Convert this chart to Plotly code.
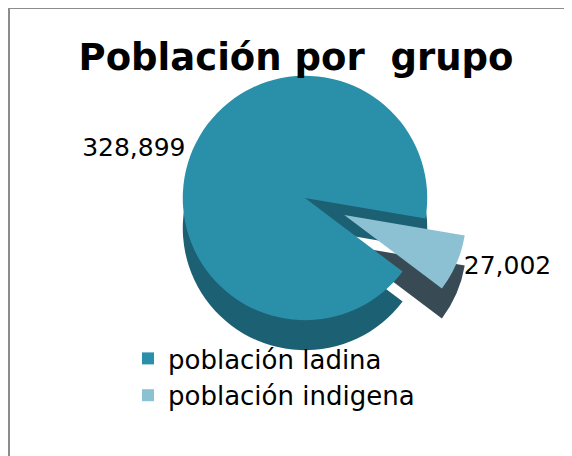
import plotly.graph_objects as go

labels = ["población ladina", "población indigena"]
values = [328899, 27002]
colors_top = ["#2A90A9", "#8CC1D4"]
colors_side = ["#1C6073", "#384A54"]

W, H = 572, 456
OFF = 8  # page body margin offset seen in the screenshot


def fx(sx):
    return (sx - OFF) / W


def fy(sy):
    return 1 - (sy - OFF) / H


def dom(cx, cy, r):
    return dict(x=[fx(cx - r), fx(cx + r)], y=[fy(cy + r), fy(cy - r)])


ROT = 127
PULL = [0, 0.35]

fig = go.Figure()
# side (extrusion) layer
fig.add_trace(go.Pie(
    labels=labels, values=values, sort=False, direction="clockwise", rotation=ROT,
    pull=PULL, marker=dict(colors=colors_side, line=dict(color="#FFFFFF", width=0)),
    textinfo="none", hoverinfo="skip", showlegend=False, automargin=False,
    domain=dom(305, 228, 165),
))
# top layer
fig.add_trace(go.Pie(
    labels=labels, values=values, sort=False, direction="clockwise", rotation=ROT,
    pull=PULL, marker=dict(colors=colors_top, line=dict(color="#FFFFFF", width=0)),
    textinfo="value", textposition="outside", texttemplate="%{value:,}",
    textfont=dict(family="DejaVu Sans", size=25, color="#000000"), automargin=False,
    domain=dom(305, 198, 165),
))

fig.update_layout(
    width=W, height=H,
    margin=dict(l=0, r=0, t=0, b=0, autoexpand=False),
    paper_bgcolor="#FFFFFF",
    title=dict(text="<b>Población por \u00a0grupo</b>", x=fx(296), xanchor="center",
               y=fy(57), yanchor="middle",
               font=dict(family="DejaVu Sans", size=37, color="#000000")),
    legend=dict(x=fx(128), y=fy(335), xanchor="left", yanchor="top",
                font=dict(family="DejaVu Sans", size=26, color="#000000"),
                bgcolor="rgba(0,0,0,0)", itemwidth=30, tracegroupgap=0),
    shapes=[
        dict(type="line", xref="paper", yref="paper", x0=fx(9), x1=fx(9), y0=0, y1=fy(8),
             line=dict(color="#8C8C8C", width=2)),
        dict(type="line", xref="paper", yref="paper", x0=fx(9), x1=1, y0=fy(8), y1=fy(8),
             line=dict(color="#8C8C8C", width=2)),
    ],
)

fig.write_html("out.html")
